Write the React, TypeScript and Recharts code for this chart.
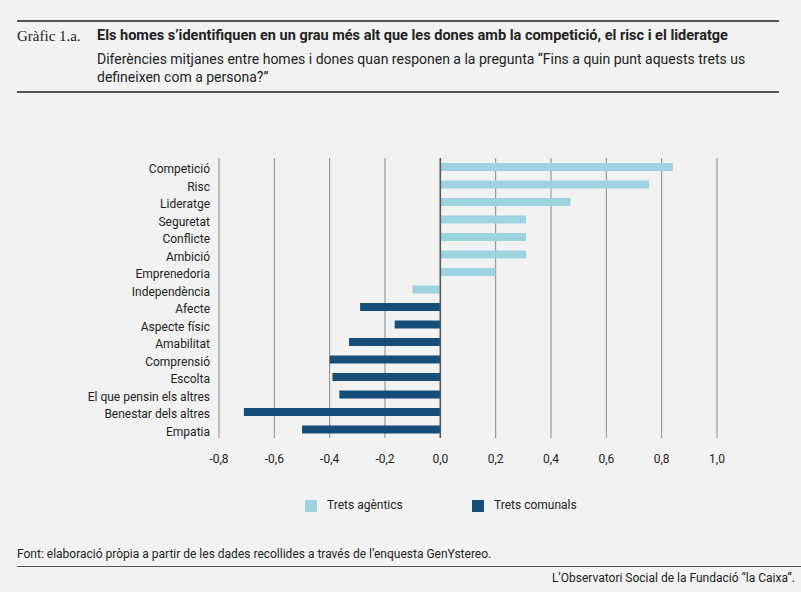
import React from 'react';
import { BarChart, Bar, XAxis, YAxis, CartesianGrid, ReferenceLine } from 'recharts';

const categories = ['Competició','Risc','Lideratge','Seguretat','Conflicte','Ambició','Emprenedoria','Independència','Afecte','Aspecte físic','Amabilitat','Comprensió','Escolta','El que pensin els altres','Benestar dels altres','Empatia'];
const agentic = [0.84,0.755,0.47,0.31,0.31,0.31,0.20,-0.10,null,null,null,null,null,null,null,null];
const communal = [null,null,null,null,null,null,null,null,-0.29,-0.165,-0.33,-0.40,-0.39,-0.365,-0.71,-0.50];
const ticks = [-0.8,-0.6,-0.4,-0.2,0,0.2,0.4,0.6,0.8,1.0];

const data = categories.map((c, i) => ({ name: c, a: agentic[i], c: communal[i] }));
const F = 'Roboto, "Noto Sans", sans-serif';
const LIGHT = '#9dd3df';
const DARK = '#154f79';

export default function App() {
  return (
    <div style={{ position: 'fixed', left: 0, top: 0, width: 801, height: 592, background: '#f2f2f2', fontFamily: F, color: '#222', overflow: 'hidden' }}>
      <div style={{ position: 'absolute', left: 17, right: 22, top: 20, borderTop: '2px solid #555' }} />
      <div style={{ position: 'absolute', left: 17, top: 28, fontFamily: '"Liberation Serif", serif', fontSize: 15 }}>Gràfic 1.a.</div>
      <div style={{ position: 'absolute', left: 97, top: 27, fontSize: 14.5, fontWeight: 700 }}>Els homes s’identifiquen en un grau més alt que les dones amb la competició, el risc i el lideratge</div>
      <div style={{ position: 'absolute', left: 97, top: 50, fontSize: 14, lineHeight: '18px', width: 680 }}>Diferències mitjanes entre homes i dones quan responen a la pregunta “Fins a quin punt aquests trets us defineixen com a persona?”</div>
      <div style={{ position: 'absolute', left: 17, right: 22, top: 91, borderTop: '2px solid #555' }} />
      <div style={{ position: 'absolute', left: 0, top: 150 }}>
        <BarChart width={801} height={330} data={data} layout="vertical" margin={{ top: 8, right: 84, bottom: 12, left: 0 }} barSize={8}>
          <CartesianGrid horizontal={false} stroke="#888" strokeWidth={1} />
          <XAxis type="number" domain={[-0.8, 1.0]} ticks={ticks} axisLine={false} tickLine={false}
            tick={{ fontSize: 12, fill: '#222', fontFamily: F }} tickFormatter={(v: number) => v.toFixed(1).replace('.', ',')} dy={8} />
          <YAxis type="category" dataKey="name" width={219} axisLine={false} tickLine={false} interval={0}
            tick={{ fontSize: 12, fill: '#222', fontFamily: F, dx: -1, dy: 2 }} />
          <ReferenceLine x={0} stroke="#555" strokeWidth={1.5} />
          <Bar dataKey="a" stackId="s" fill={LIGHT} isAnimationActive={false} />
          <Bar dataKey="c" stackId="s" fill={DARK} isAnimationActive={false} />
        </BarChart>
      </div>
      <div style={{ position: 'absolute', left: 305, top: 500, width: 12, height: 12, background: LIGHT }} />
      <div style={{ position: 'absolute', left: 327, top: 498, fontSize: 12 }}>Trets agèntics</div>
      <div style={{ position: 'absolute', left: 472, top: 500, width: 12, height: 12, background: DARK }} />
      <div style={{ position: 'absolute', left: 494, top: 498, fontSize: 12 }}>Trets comunals</div>
      <div style={{ position: 'absolute', left: 17, top: 547, fontSize: 12 }}>Font: elaboració pròpia a partir de les dades recollides a través de l’enquesta GenYstereo.</div>
      <div style={{ position: 'absolute', left: 17, right: 0, top: 566, borderTop: '1px solid #555' }} />
      <div style={{ position: 'absolute', right: 6, top: 571, fontSize: 12 }}>L’Observatori Social de la Fundació “la Caixa”.</div>
    </div>
  );
}
